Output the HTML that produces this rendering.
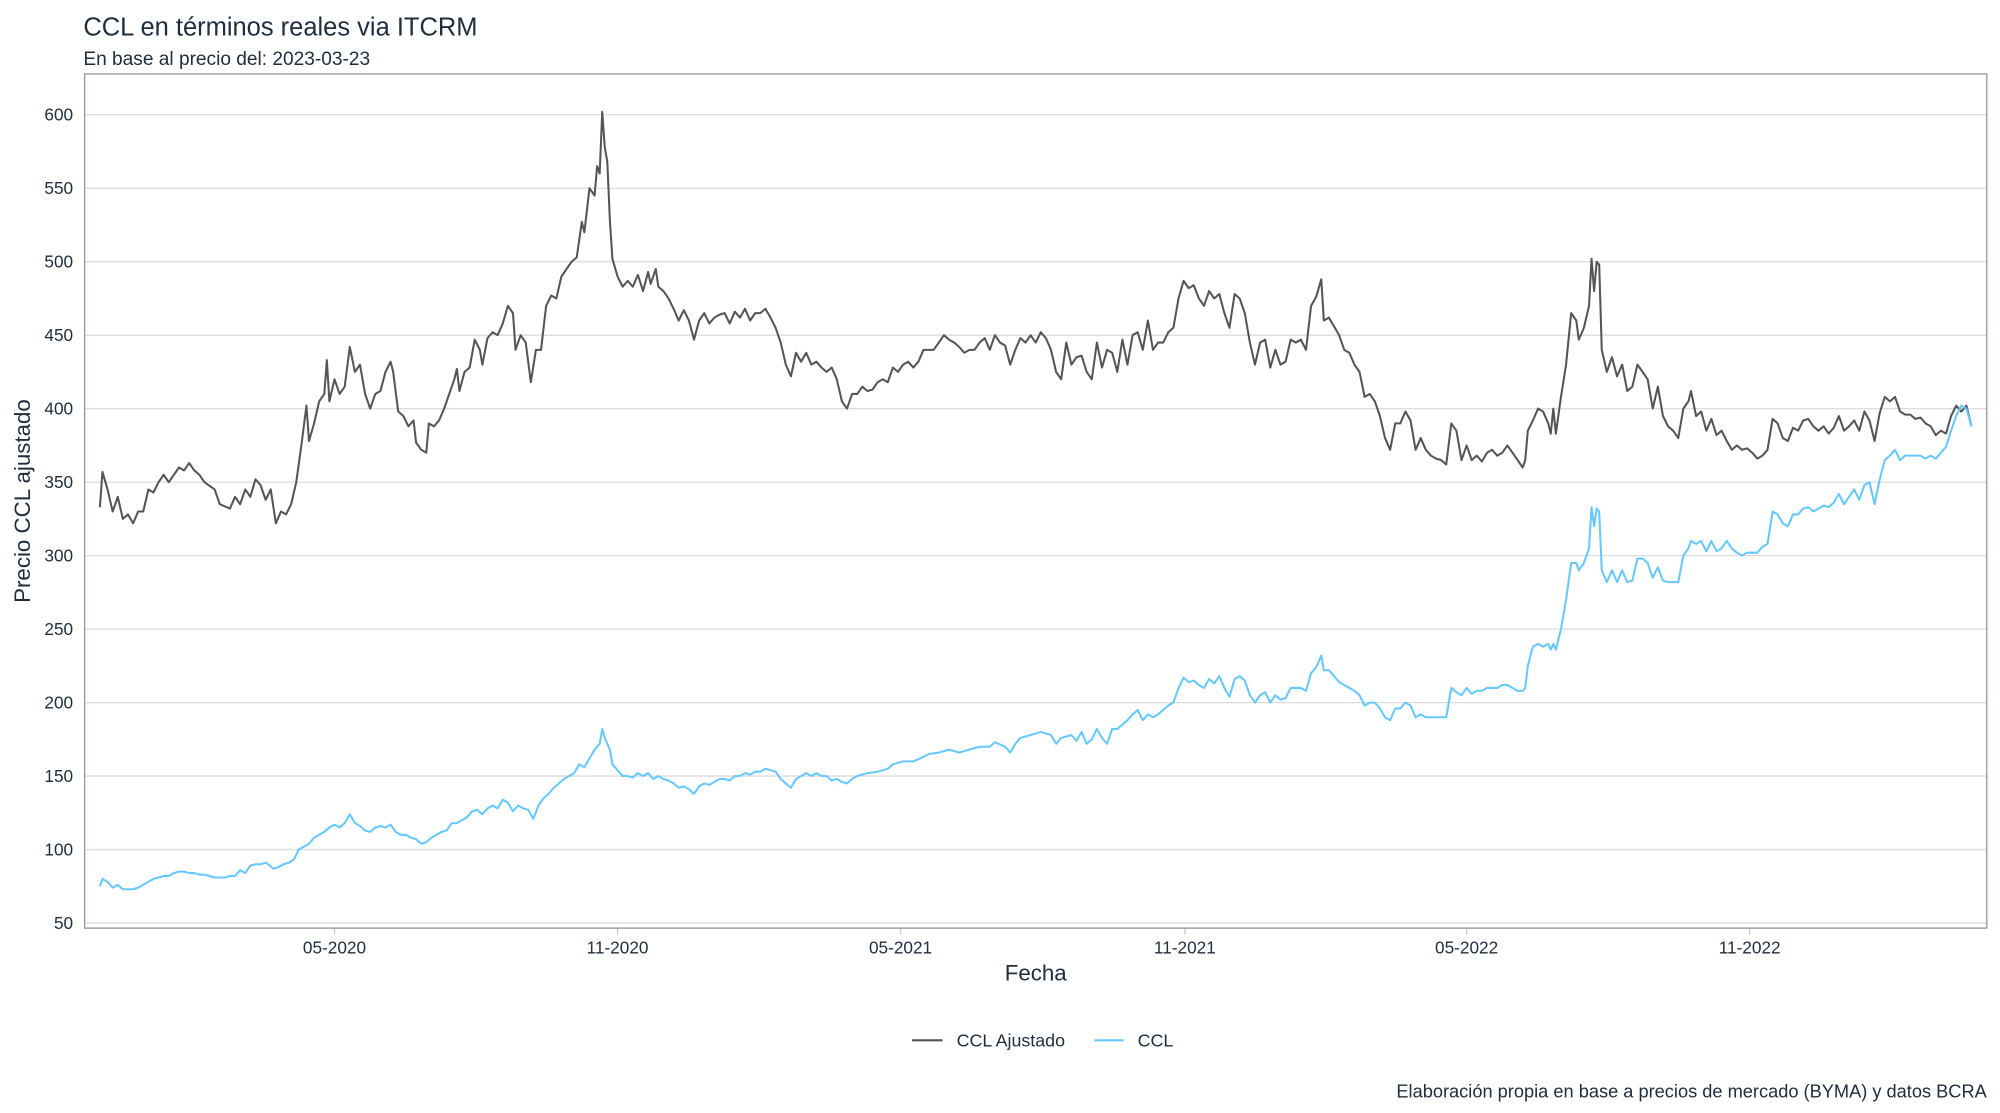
<!DOCTYPE html>
<html><head><meta charset="utf-8"><style>
html,body{margin:0;padding:0;background:#fff;}
svg{display:block;font-family:"Liberation Sans",sans-serif;}
</style></head><body>
<svg id="s" width="2000" height="1113" viewBox="0 0 1568 873" xmlns="http://www.w3.org/2000/svg">
<rect width="1568" height="873" fill="#fff"/>
<text x="65" y="28" font-size="20" fill="#1f2d3d">CCL en términos reales via ITCRM</text>
<text x="65" y="51" font-size="15" fill="#1f2d3d">En base al precio del: 2023-03-23</text>
<g id="grid"></g>
<rect x="66" y="58" width="1492" height="670" fill="none" stroke="#8c96a0" stroke-width="1"/>
<g id="yl" font-size="13.5" fill="#1f2d3d" text-anchor="end"></g>
<g id="xl" font-size="13.5" fill="#1f2d3d" text-anchor="middle"></g>
<polyline id="g" fill="none" stroke="#555" stroke-width="1.6" stroke-linejoin="round"/>
<polyline id="b" fill="none" stroke="#66c8ff" stroke-width="1.6" stroke-linejoin="round"/>
<text x="812" y="769" font-size="17.5" fill="#1f2d3d" text-anchor="middle">Fecha</text>
<text transform="translate(23,393) rotate(-90)" font-size="17.5" fill="#1f2d3d" text-anchor="middle">Precio CCL ajustado</text>
<line x1="715" y1="816" x2="739" y2="816" stroke="#555" stroke-width="1.6"/>
<text x="750" y="821" font-size="14" fill="#1f2d3d">CCL Ajustado</text>
<line x1="858" y1="816" x2="881" y2="816" stroke="#66c8ff" stroke-width="1.6"/>
<text x="892" y="821" font-size="14" fill="#1f2d3d">CCL</text>
<text x="1558" y="861" font-size="14.3" fill="#1f2d3d" text-anchor="end">Elaboración propia en base a precios de mercado (BYMA) y datos BCRA</text>
</svg>
<script>
const Y=v=>724-(v-50)*1.15273;
let gr='',yl='',xl='';
for(let v=50;v<=600;v+=50){const y=Y(v);gr+=`<line x1="66" x2="1558" y1="${y}" y2="${y}" stroke="#dcdcdc" stroke-width="1"/>`;yl+=`<text x="57" y="${y+4.5}">${v}</text>`;}
[[262,'05-2020'],[484,'11-2020'],[706,'05-2021'],[929,'11-2021'],[1150,'05-2022'],[1372,'11-2022']].forEach(([x,t])=>{gr+=`<line x1="${x}" x2="${x}" y1="728" y2="733" stroke="#ccc"/>`;xl+=`<text x="${x}" y="748">${t}</text>`;});
document.getElementById('grid').innerHTML=gr;document.getElementById('yl').innerHTML=yl;document.getElementById('xl').innerHTML=xl;
const G=[78,333,80,357,84,345,88,330,92,340,96,325,100,328,104,322,108,330,112,330,116,345,120,343,124,350,128,355,132,350,136,355,140,360,144,358,148,363,152,358,156,355,160,350,168,345,172,335,180,332,184,340,188,335,192,345,196,340,200,352,204,348,208,338,212,345,216,322,220,330,224,328,228,335,232,350,236,375,240,402,242,378,246,390,250,405,254,410,256,433,258,405,262,420,266,410,270,415,274,442,278,425,282,430,286,410,290,400,294,410,298,412,302,425,306,432,308,425,312,398,316,395,320,388,324,392,326,377,330,372,334,370,336,390,340,388,344,392,348,400,352,410,356,420,358,427,360,412,364,425,368,428,372,447,376,440,378,430,382,448,386,452,390,450,394,458,398,470,402,465,404,440,408,450,412,445,416,418,420,440,424,440,428,470,432,477,436,475,440,490,444,495,448,500,452,503,456,527,458,520,462,550,466,545,468,565,470,560,472,602,474,578,476,568,478,528,480,502,484,490,488,483,492,487,496,483,500,491,504,480,508,493,510,485,514,495,516,483,520,480,524,475,528,468,532,460,536,467,540,460,544,447,548,460,552,465,556,458,560,462,564,464,568,465,572,458,576,466,580,462,584,468,588,460,592,465,596,465,600,468,604,462,608,455,612,445,616,430,620,422,624,438,628,432,632,438,636,430,640,432,644,428,648,425,652,428,656,420,660,405,664,400,668,410,672,410,676,415,680,412,684,413,688,418,692,420,696,418,700,428,704,425,708,430,712,432,716,428,720,432,724,440,728,440,732,440,736,445,740,450,744,447,748,445,752,442,756,438,760,440,764,440,768,445,772,448,776,440,780,450,784,445,788,443,792,430,796,440,800,448,804,445,808,450,812,445,816,452,820,448,824,440,828,425,832,420,836,445,840,430,844,435,848,436,852,425,856,420,860,445,864,428,868,440,872,438,876,425,880,447,884,430,888,450,892,452,896,440,900,460,904,440,908,445,912,445,916,452,920,455,924,475,928,487,932,482,936,484,940,475,944,470,948,480,952,475,956,478,960,465,964,455,968,478,972,475,976,465,980,445,984,430,988,445,992,447,996,428,1000,440,1004,430,1008,432,1012,447,1016,445,1020,447,1024,440,1028,470,1032,476,1036,488,1038,460,1042,462,1046,456,1050,450,1054,440,1058,438,1062,430,1066,425,1070,408,1074,410,1078,405,1082,395,1086,380,1090,372,1094,390,1098,390,1102,398,1106,392,1110,372,1114,380,1118,372,1122,368,1126,366,1130,365,1134,362,1138,390,1142,385,1146,365,1150,375,1154,365,1158,368,1162,364,1166,370,1170,372,1174,368,1178,370,1182,375,1186,370,1190,365,1194,360,1196,365,1198,385,1202,392,1206,400,1210,398,1214,390,1216,383,1218,400,1220,383,1224,408,1228,430,1232,465,1236,460,1238,447,1242,455,1246,470,1248,502,1250,480,1252,500,1254,498,1256,440,1260,425,1264,435,1268,422,1272,430,1276,412,1280,415,1284,430,1288,425,1292,420,1296,400,1300,415,1304,395,1308,388,1312,385,1316,380,1320,400,1324,405,1326,412,1330,395,1334,398,1338,385,1342,393,1346,382,1350,385,1354,378,1358,372,1362,375,1366,372,1370,373,1374,370,1378,366,1382,368,1386,372,1390,393,1394,390,1398,380,1402,378,1406,387,1410,385,1414,392,1418,393,1422,388,1426,385,1430,388,1434,383,1438,387,1442,395,1446,385,1450,388,1454,392,1458,385,1462,398,1466,392,1470,378,1474,397,1478,408,1482,405,1486,408,1490,398,1494,396,1498,396,1502,393,1506,394,1510,390,1514,388,1518,382,1522,385,1526,383,1530,395,1534,402,1538,398,1542,402,1546,388];
const B=[78,75,80,80,84,78,88,74,92,76,96,73,100,73,104,73,108,74,112,76,116,78,120,80,124,81,128,82,132,82,136,84,140,85,144,85,148,84,152,84,156,83,160,83,168,81,172,81,176,81,180,82,184,82,188,86,192,84,196,89,200,90,204,90,208,91,210,90,214,87,218,88,222,90,226,91,230,93,234,100,238,102,242,104,246,108,250,110,254,112,258,115,262,117,266,115,270,118,274,124,278,118,282,116,286,113,290,112,294,115,298,116,302,115,306,117,310,112,314,110,318,110,322,108,326,107,330,104,334,105,338,108,342,110,346,112,350,113,354,118,358,118,362,120,366,122,370,126,374,127,378,124,382,128,386,130,390,128,394,134,398,132,402,126,406,130,410,128,414,127,418,121,422,130,426,135,430,138,434,142,438,145,442,148,446,150,450,152,454,158,458,156,462,162,466,168,470,172,472,182,474,176,478,168,480,158,484,154,488,150,492,150,496,149,500,152,504,150,508,152,512,148,516,150,520,148,524,147,528,145,532,142,536,143,540,141,544,138,548,143,552,145,556,144,560,146,564,148,568,148,572,147,576,150,580,150,584,152,588,151,592,153,596,153,600,155,604,154,608,153,612,148,616,145,620,142,624,148,628,150,632,152,636,150,640,152,644,150,648,150,652,147,656,148,660,146,664,145,668,148,672,150,680,152,688,153,696,155,700,158,708,160,716,160,724,163,728,165,736,166,744,168,752,166,760,168,768,170,776,170,780,173,788,170,792,166,796,172,800,176,808,178,816,180,824,178,828,172,832,176,840,178,844,174,848,180,852,172,856,175,860,182,864,176,868,172,872,182,876,182,880,185,884,188,888,192,892,195,896,188,900,192,904,190,908,192,912,195,916,198,920,200,924,210,928,217,932,214,936,215,940,212,944,210,948,216,952,213,956,218,960,210,964,204,968,216,972,218,976,215,980,205,984,200,988,205,992,207,996,200,1000,205,1004,202,1008,203,1012,210,1016,210,1020,210,1024,208,1028,220,1032,224,1036,232,1038,222,1042,222,1046,218,1050,214,1054,212,1058,210,1062,208,1066,205,1070,198,1074,200,1078,200,1082,196,1086,190,1090,188,1094,196,1098,196,1102,200,1106,198,1110,190,1114,192,1118,190,1122,190,1126,190,1130,190,1134,190,1138,210,1142,207,1146,205,1150,210,1154,206,1158,208,1162,208,1166,210,1170,210,1174,210,1178,212,1182,212,1186,210,1190,208,1194,208,1196,210,1198,225,1202,238,1206,240,1210,238,1214,240,1216,236,1218,240,1220,236,1224,250,1228,270,1232,295,1236,295,1238,290,1242,295,1246,305,1248,333,1250,320,1252,332,1254,330,1256,290,1260,282,1264,290,1268,282,1272,290,1276,282,1280,283,1284,298,1288,298,1292,295,1296,285,1300,292,1304,283,1308,282,1312,282,1316,282,1320,300,1324,305,1326,310,1330,308,1334,310,1338,303,1342,310,1346,303,1350,305,1354,310,1358,305,1362,302,1366,300,1370,302,1374,302,1378,302,1382,306,1386,308,1390,330,1394,328,1398,322,1402,320,1406,328,1410,328,1414,332,1418,333,1422,330,1426,332,1430,334,1434,333,1438,336,1442,342,1446,335,1450,340,1454,345,1458,338,1462,348,1466,350,1470,335,1474,352,1478,365,1482,368,1486,372,1490,365,1494,368,1498,368,1502,368,1506,368,1510,366,1514,368,1518,366,1522,370,1526,374,1530,385,1534,395,1538,402,1542,400,1546,388];
function pts(a){let s=[];for(let i=0;i<a.length;i+=2)s.push(a[i]+','+Y(a[i+1]).toFixed(1));return s.join(' ');}
document.getElementById('g').setAttribute('points',pts(G));
document.getElementById('b').setAttribute('points',pts(B));
</script>
</body></html>
